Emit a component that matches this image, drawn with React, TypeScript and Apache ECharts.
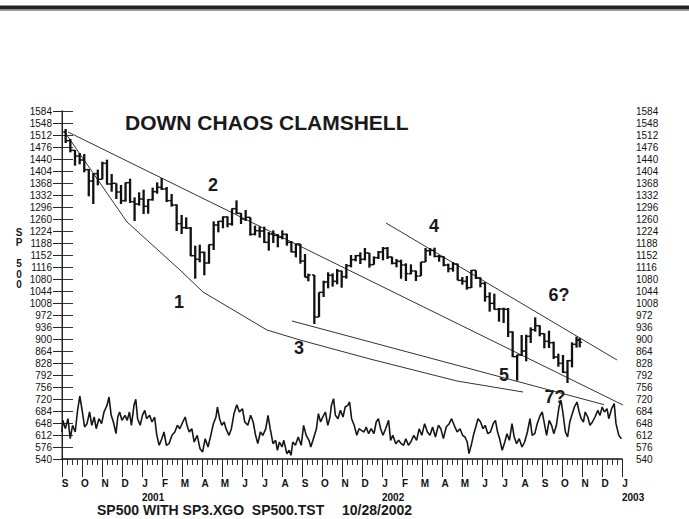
import React, { useEffect, useRef } from 'react';
import * as echarts from 'echarts';

const FONT = '"Liberation Sans", Arial, Helvetica, sans-serif';

// x axis: month index 0 = Sep 2000 ... 28 = Jan 2003
const monthLetters = ['S','O','N','D','J','F','M','A','M','J','J','A','S','O','N','D','J','F','M','A','M','J','J','A','S','O','N','D','J'];
const yearTicks = [4, 16, 28];
const yearNames = ['2001', '2002', '2003'];

// weekly SP500 bars (mid-week date)
const barDates = [
  '2000-09-06','2000-09-13','2000-09-20','2000-09-27','2000-10-04','2000-10-11','2000-10-18','2000-10-25','2000-11-01','2000-11-08','2000-11-15','2000-11-22','2000-11-29','2000-12-06','2000-12-13','2000-12-20','2000-12-27',
  '2001-01-03','2001-01-10','2001-01-17','2001-01-24','2001-01-31','2001-02-07','2001-02-14','2001-02-21','2001-02-28','2001-03-07','2001-03-14','2001-03-21','2001-03-28','2001-04-04','2001-04-11','2001-04-18','2001-04-25','2001-05-02','2001-05-09','2001-05-16','2001-05-23','2001-05-30','2001-06-06','2001-06-13','2001-06-20','2001-06-27','2001-07-04','2001-07-11','2001-07-18','2001-07-25','2001-08-01','2001-08-08','2001-08-15','2001-08-22','2001-08-29','2001-09-05','2001-09-10','2001-09-19','2001-09-26','2001-10-03','2001-10-10','2001-10-17','2001-10-24','2001-10-31','2001-11-07','2001-11-14','2001-11-21','2001-11-28','2001-12-05','2001-12-12','2001-12-19','2001-12-26',
  '2002-01-02','2002-01-09','2002-01-16','2002-01-23','2002-01-30','2002-02-06','2002-02-13','2002-02-20','2002-02-27','2002-03-06','2002-03-13','2002-03-20','2002-03-27','2002-04-03','2002-04-10','2002-04-17','2002-04-24','2002-05-01','2002-05-08','2002-05-15','2002-05-22','2002-05-29','2002-06-05','2002-06-12','2002-06-19','2002-06-26','2002-07-03','2002-07-10','2002-07-17','2002-07-24','2002-07-31','2002-08-07','2002-08-14','2002-08-21','2002-08-28','2002-09-04','2002-09-11','2002-09-18','2002-09-25','2002-10-02','2002-10-09','2002-10-16','2002-10-23','2002-10-28'
];
const barOpen = [
  1521,1495,1466,1449,1437,1408,1374,1396,1379,1427,1365,1367,1341,1315,1369,1312,1305,
  1320,1298,1318,1342,1355,1350,1315,1302,1246,1234,1233,1150,1139,1160,1128,1183,1242,1253,1266,1245,1291,1277,1260,1265,1214,1225,1224,1190,1215,1211,1205,1214,1190,1161,1185,1134,1085,1092,966,1040,1071,1091,1073,1104,1087,1120,1138,1150,1139,1158,1123,1144,
  1161,1172,1146,1127,1133,1122,1096,1104,1089,1131,1165,1166,1148,1147,1122,1111,1125,1076,1073,1054,1106,1083,1067,1027,1007,989,990,989,921,847,852,864,908,928,940,916,893,889,846,827,800,835,884,897
];
const barHigh = [
  1530,1500,1467,1458,1455,1410,1397,1408,1432,1438,1395,1367,1362,1370,1381,1325,1340,
  1348,1320,1354,1370,1383,1356,1335,1304,1272,1265,1236,1180,1183,1162,1184,1253,1254,1268,1268,1292,1316,1278,1287,1265,1240,1238,1237,1221,1226,1215,1226,1216,1194,1186,1185,1155,1096,1092,1040,1075,1100,1097,1110,1105,1125,1152,1152,1160,1173,1158,1148,1164,
  1176,1176,1147,1140,1138,1127,1124,1105,1131,1173,1173,1174,1152,1148,1126,1131,1126,1086,1089,1107,1106,1085,1070,1040,1036,993,994,993,923,853,912,913,935,965,941,917,925,892,856,852,837,890,907,903
];
const barLow = [
  1488,1460,1420,1424,1400,1328,1305,1361,1379,1363,1342,1320,1305,1312,1308,1254,1300,
  1275,1276,1315,1336,1347,1311,1297,1224,1215,1230,1148,1081,1130,1091,1126,1167,1220,1232,1235,1240,1275,1245,1254,1210,1211,1204,1188,1165,1188,1175,1199,1180,1160,1145,1126,1085,1073,945,966,1026,1052,1057,1064,1054,1081,1115,1133,1125,1136,1114,1123,1140,
  1136,1140,1124,1115,1081,1074,1094,1074,1089,1131,1150,1145,1132,1118,1100,1102,1076,1063,1048,1053,1080,1055,1012,982,988,952,948,906,846,775,849,833,888,922,908,872,873,840,817,798,768,815,874,875
];
const barClose = [
  1495,1466,1449,1437,1408,1374,1396,1379,1427,1365,1367,1341,1315,1369,1312,1305,1320,
  1298,1318,1342,1355,1350,1315,1302,1246,1234,1233,1150,1139,1160,1128,1183,1242,1253,1266,1245,1291,1277,1260,1265,1214,1225,1224,1190,1215,1211,1205,1214,1190,1161,1185,1134,1085,1092,966,1040,1071,1091,1073,1104,1087,1120,1138,1150,1139,1158,1123,1144,1161,
  1172,1146,1127,1133,1122,1096,1104,1089,1131,1165,1166,1148,1147,1122,1111,1125,1076,1073,1054,1106,1083,1067,1027,1007,989,990,989,921,847,852,864,908,928,940,916,893,889,846,827,800,835,884,897,890
];

// oscillator (SP3.XGO) [month index, value]
const oscPoints = [
  [0.0,621],[0.04,656],[0.17,631],[0.30,661],[0.41,601],[0.53,641],[0.66,621],[0.77,681],[0.89,729],[1.02,681],
  [1.13,636],[1.25,646],[1.38,681],[1.49,641],[1.61,666],[1.71,631],[1.85,661],[1.98,646],[2.10,681],[2.25,701],
  [2.35,726],[2.46,671],[2.57,651],[2.70,616],[2.79,666],[2.88,681],[3.00,656],[3.15,671],[3.26,656],[3.37,681],
  [3.47,641],[3.60,701],[3.69,719],[3.78,661],[3.91,641],[4.02,671],[4.14,686],[4.23,661],[4.38,671],[4.50,651],
  [4.63,666],[4.74,611],[4.86,581],[4.99,601],[5.10,621],[5.22,581],[5.35,586],[5.50,611],[5.64,621],[5.77,641],
  [5.89,631],[6.04,651],[6.16,666],[6.25,641],[6.36,621],[6.49,631],[6.61,591],[6.76,611],[6.90,571],[7.03,561],
  [7.16,601],[7.30,576],[7.44,611],[7.57,646],[7.70,666],[7.77,696],[7.88,661],[7.99,641],[8.11,651],[8.20,631],
  [8.35,611],[8.47,631],[8.60,676],[8.74,703],[8.87,681],[9.02,691],[9.14,651],[9.29,641],[9.43,671],[9.56,651],
  [9.68,611],[9.79,586],[9.92,621],[10.04,611],[10.19,631],[10.30,671],[10.41,631],[10.55,586],[10.68,596],[10.77,566],
  [10.87,591],[11.00,576],[11.09,596],[11.24,556],[11.36,566],[11.45,551],[11.54,591],[11.67,581],[11.81,606],[11.96,581],
  [12.08,641],[12.21,611],[12.35,596],[12.44,576],[12.57,601],[12.72,631],[12.82,676],[12.93,651],[13.04,666],[13.17,681],
  [13.29,641],[13.40,666],[13.47,701],[13.58,721],[13.67,671],[13.80,661],[13.92,686],[14.05,666],[14.16,696],[14.29,701],
  [14.38,711],[14.48,661],[14.61,641],[14.74,611],[14.85,631],[14.97,626],[15.10,621],[15.21,636],[15.33,616],[15.46,631],
  [15.60,616],[15.71,651],[15.82,661],[15.93,631],[16.05,611],[16.18,631],[16.33,656],[16.43,596],[16.54,611],[16.69,586],
  [16.83,596],[16.96,586],[17.08,581],[17.19,601],[17.32,581],[17.44,591],[17.59,611],[17.73,596],[17.86,631],[17.99,611],
  [18.13,646],[18.27,621],[18.40,611],[18.53,636],[18.67,606],[18.82,641],[18.94,631],[19.07,601],[19.21,636],[19.36,646],
  [19.48,661],[19.61,641],[19.76,621],[19.90,631],[20.03,611],[20.15,606],[20.26,591],[20.35,556],[20.48,586],[20.59,616],
  [20.69,636],[20.80,661],[20.93,651],[21.05,631],[21.16,641],[21.29,616],[21.42,621],[21.56,646],[21.67,656],[21.78,621],
  [21.88,601],[22.01,566],[22.14,591],[22.25,616],[22.37,596],[22.50,646],[22.61,606],[22.73,586],[22.86,601],[23.00,576],
  [23.13,591],[23.27,621],[23.40,661],[23.51,611],[23.64,616],[23.76,646],[23.91,671],[24.01,681],[24.12,646],[24.23,611],
  [24.36,656],[24.48,641],[24.59,616],[24.72,641],[24.85,696],[24.95,716],[25.04,681],[25.17,621],[25.28,606],[25.39,651],
  [25.49,671],[25.62,696],[25.75,711],[25.86,681],[25.96,661],[26.07,651],[26.16,681],[26.29,666],[26.40,641],[26.52,651],
  [26.65,666],[26.79,686],[26.90,671],[27.01,696],[27.12,681],[27.25,691],[27.34,661],[27.48,691],[27.61,706],[27.70,646],
  [27.84,611],[27.97,601]
];

// drawn trend lines [month index, value]
const trendLine1 = [[0.1,1524],[3.25,1251],[5.9,1107],[7.05,1041],[10.25,927],[11.9,897],[15.4,840],[19.75,774],[23.05,741]];
const trendLine2 = [[0.3,1521],[28.25,696]];
const trendLine3 = [[11.5,954],[27.1,703]];
const trendLine4 = [[16.2,1248],[27.75,837]];

function monthIndex(s: string): number {
  const [y, mo, d] = s.split('-').map(Number);
  const dim = new Date(y, mo, 0).getDate();
  return (y - 2000) * 12 + (mo - 9) + (d - 0.5) / dim;
}

export default function App() {
  const ref = useRef<HTMLDivElement>(null);
  useEffect(() => {
    if (!ref.current) return;
    const chart = echarts.init(ref.current, undefined, { renderer: 'svg' });
    const barData = barDates.map((d, i) => [monthIndex(d), barOpen[i], barHigh[i], barLow[i], barClose[i]]);
    const lineStyle = { color: '#333', width: 1 };
    const trend = (data: number[][]) => ({
      type: 'line', data, symbol: 'none', clip: false, silent: true,
      lineStyle, xAxisIndex: 0, yAxisIndex: 0, z: 3,
    });
    const txt = (text: string, x: number, y: number, size: number, align = 'center') => ({
      type: 'text', x, y, silent: true,
      style: { text, fill: '#1a1a1a', fontSize: size, fontWeight: 'bold', fontFamily: FONT, align, verticalAlign: 'middle' },
    });
    const yLabel = { fontSize: 10, color: '#111', fontFamily: FONT, formatter: (v: number) => String(v) };
    chart.setOption({
      animation: false,
      backgroundColor: '#fff',
      grid: { left: 62, right: 67, top: 111, bottom: 60, containLabel: false },
      xAxis: [
        {
          type: 'value', min: 0, max: 28, interval: 1, position: 'bottom',
          axisLine: { show: true, lineStyle: { color: '#111', width: 1.5 } },
          axisTick: { show: true, length: 18, lineStyle: { color: '#222', width: 1 } },
          minorTick: { show: true, splitNumber: 4, length: 6, lineStyle: { color: '#333', width: 1 } },
          splitLine: { show: false },
          axisLabel: {
            margin: 19, fontSize: 10, fontWeight: 'bold', color: '#111', fontFamily: FONT,
            padding: [0, 0, 0, 6], showMinLabel: true, showMaxLabel: true,
            formatter: (v: number) => monthLetters[Math.round(v)] ?? '',
          },
        },
        {
          type: 'value', min: 0, max: 28, interval: 1, position: 'bottom',
          axisLine: { show: false }, axisTick: { show: false }, splitLine: { show: false },
          axisLabel: {
            margin: 33, fontSize: 10, fontWeight: 'bold', color: '#111', fontFamily: FONT, align: 'left',
            showMinLabel: true, showMaxLabel: true,
            formatter: (v: number) => {
              const k = yearTicks.indexOf(Math.round(v));
              return k >= 0 ? yearNames[k] : '';
            },
          },
        },
      ],
      yAxis: [
        {
          type: 'value', min: 540, max: 1584, interval: 36, position: 'left',
          axisLine: { show: true, lineStyle: { color: '#9a9a9a', width: 2 } },
          axisTick: { show: true, length: 9, lineStyle: { color: '#222' } },
          splitLine: { show: false },
          axisLabel: { ...yLabel, margin: 10 },
        },
        {
          type: 'value', min: 540, max: 1584, interval: 36, position: 'right',
          axisLine: { show: true, lineStyle: { color: '#222', width: 1 } },
          axisTick: { show: true, length: 11, lineStyle: { color: '#333' } },
          splitLine: { show: false },
          axisLabel: { ...yLabel, margin: 14 },
        },
      ],
      series: [
        {
          type: 'custom', name: 'SP500', xAxisIndex: 0, yAxisIndex: 0, z: 4,
          data: barData,
          encode: { x: 0, y: [1, 2, 3, 4] },
          renderItem: (params: any, api: any) => {
            const x = api.value(0);
            const pH = api.coord([x, api.value(2)]);
            const pL = api.coord([x, api.value(3)]);
            const pO = api.coord([x, api.value(1)]);
            const pC = api.coord([x, api.value(4)]);
            return {
              type: 'group',
              children: [
                { type: 'line', shape: { x1: pH[0], y1: pH[1], x2: pL[0], y2: pL[1] }, style: { stroke: '#111', lineWidth: 2.3 } },
                { type: 'line', shape: { x1: pO[0] - 2.4, y1: pO[1], x2: pO[0], y2: pO[1] }, style: { stroke: '#111', lineWidth: 1.5 } },
                { type: 'line', shape: { x1: pC[0], y1: pC[1], x2: pC[0] + 2.4, y2: pC[1] }, style: { stroke: '#111', lineWidth: 1.5 } },
              ],
            };
          },
        },
        {
          type: 'line', name: 'SP3.XGO', data: oscPoints, symbol: 'none', xAxisIndex: 0, yAxisIndex: 0,
          lineStyle: { color: '#161616', width: 1.6 }, z: 4,
        },
        trend(trendLine1),
        trend(trendLine2),
        trend(trendLine3),
        trend(trendLine4),
      ],
      graphic: [
        { type: 'rect', shape: { x: 0, y: 5.5, width: 689, height: 4 }, style: { fill: '#222' }, silent: true },
        { type: 'rect', shape: { x: 0, y: 9.5, width: 689, height: 1.2 }, style: { fill: '#808080' }, silent: true },
        txt('DOWN CHAOS CLAMSHELL', 125, 122, 21, 'left'),
        txt('1', 179, 302, 18),
        txt('2', 213, 185, 18),
        txt('3', 299, 348, 18),
        txt('4', 434, 226, 18),
        txt('5', 504, 375, 18),
        txt('6?', 559, 295, 18),
        txt('7?', 555, 397, 18),
        {
          type: 'text', x: 19, y: 227, silent: true,
          style: { text: 'S\nP\n\n5\n0\n0', fill: '#1a1a1a', fontSize: 10, fontWeight: 'bold', fontFamily: FONT, align: 'center', verticalAlign: 'top', lineHeight: 10.5 },
        },
        txt('SP500 WITH SP3.XGO  SP500.TST', 97, 510, 14, 'left'),
        txt('10/28/2002', 342, 510, 14, 'left'),
      ],
    });
    return () => chart.dispose();
  }, []);
  return <div ref={ref} style={{ position: 'fixed', left: 0, top: 0, width: 689, height: 519, background: '#fff' }} />;
}
